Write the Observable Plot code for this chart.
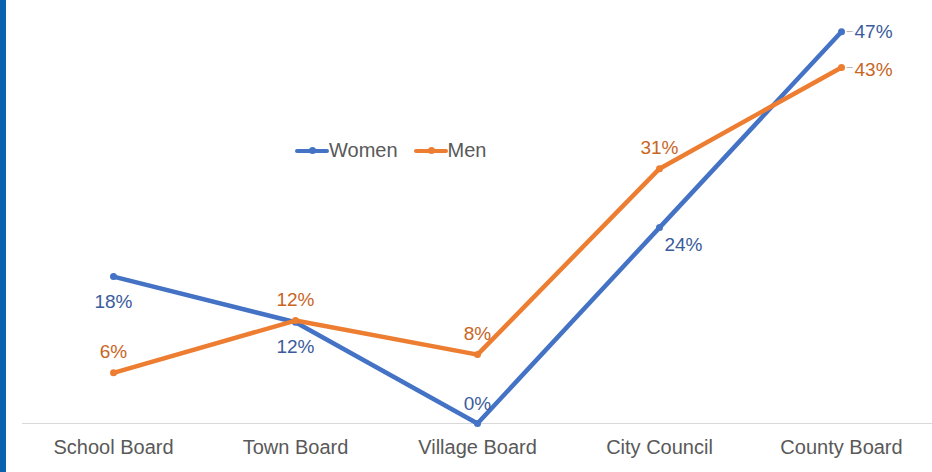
<!DOCTYPE html>
<html>
<head>
<meta charset="utf-8">
<script src="https://cdn.jsdelivr.net/npm/d3@7"></script>
<script src="https://cdn.jsdelivr.net/npm/@observablehq/plot@0.6"></script>
<style>
  html, body { margin: 0; padding: 0; background: #fff; }
  #wrap { position: relative; width: 932px; height: 472px; overflow: hidden; font-family: "Liberation Sans", Arial, sans-serif; }
  #bar { position: absolute; left: 0; top: 0; width: 6px; height: 472px; background: #0b63ad; }
  #legend { position: absolute; top: 139px; left: 295px; display: flex; align-items: center; font-size: 20px; color: #595959; }
  .item { display: flex; align-items: center; margin-right: 16px; }
  .sw { position: relative; width: 34px; height: 4px; border-radius: 2px; }
  .sw::after { content: ""; position: absolute; left: 14px; top: -1.5px; width: 7px; height: 7px; border-radius: 50%; background: inherit; }
</style>
</head>
<body>
<div id="wrap">
  <div id="chart"></div>
  <div id="bar"></div>
  <div id="legend"></div>
</div>
<script>
const categories = ["School Board", "Town Board", "Village Board", "City Council", "County Board"];
const seriesNames = ["Women", "Men"];
const women = [17.7, 12.2, 0, 23.6, 47.2];
const men = [6.1, 12.4, 8.3, 30.7, 42.9];

const lineColors = {Women: "#4472c4", Men: "#ed7d31"};
const labelColors = {Women: "#3b5b9d", Men: "#c8651f"};

const rows = [];
categories.forEach((c, i) => {
  rows.push({category: c, series: "Women", value: women[i], idx: i});
  rows.push({category: c, series: "Men", value: men[i], idx: i});
});
const W = rows.filter(d => d.series === "Women");
const M = rows.filter(d => d.series === "Men");
const fmt = d => d3.format(".0f")(d.value) + "%";
const last = categories.length - 1;

const labelStyle = {x: "category", y: "value", text: fmt, fontSize: 19};

const chart = Plot.plot({
  width: 932,
  height: 472,
  marginLeft: 22,
  marginRight: 0,
  marginTop: 8,
  marginBottom: 49,
  style: {fontFamily: "'Liberation Sans', Arial, sans-serif", background: "transparent"},
  x: {type: "point", domain: categories, padding: 0.5},
  y: {domain: [0, 50], axis: null},
  marks: [
    Plot.ruleY([0], {stroke: "#d9d9d9", strokeWidth: 1.2}),
    Plot.axisX({tickSize: 0, tickPadding: 16, fontSize: 20, fill: "#595959", label: null}),
    Plot.line(W, {x: "category", y: "value", stroke: lineColors.Women, strokeWidth: 4.5, strokeLinejoin: "round"}),
    Plot.dot(W, {x: "category", y: "value", r: 3.5, fill: lineColors.Women}),
    Plot.line(M, {x: "category", y: "value", stroke: lineColors.Men, strokeWidth: 4.5, strokeLinejoin: "round"}),
    Plot.dot(M, {x: "category", y: "value", r: 3.5, fill: lineColors.Men}),
    // Women labels
    Plot.text(W.filter(d => d.idx < 2), {...labelStyle, fill: labelColors.Women, dy: 25}),
    Plot.text(W.filter(d => d.idx === 2), {...labelStyle, fill: labelColors.Women, dy: -20}),
    Plot.text(W.filter(d => d.idx === 3), {...labelStyle, fill: labelColors.Women, dx: 24, dy: 17}),
    Plot.text(W.filter(d => d.idx === last), {...labelStyle, fill: labelColors.Women, textAnchor: "start", dx: 13}),
    // Men labels
    Plot.text(M.filter(d => d.idx < last), {...labelStyle, fill: labelColors.Men, dy: -21}),
    Plot.text(M.filter(d => d.idx === last), {...labelStyle, fill: labelColors.Men, textAnchor: "start", dx: 13, dy: 2}),
    // leader ticks for the end labels
    Plot.text(rows.filter(d => d.idx === last), {x: "category", y: "value", text: () => "–", fill: "#a6a6a6", fontSize: 11, dx: 8, dy: -1})
  ]
});
document.getElementById("chart").appendChild(chart);

const legend = document.getElementById("legend");
seriesNames.forEach(s => {
  const item = document.createElement("div");
  item.className = "item";
  const sw = document.createElement("span");
  sw.className = "sw";
  sw.style.background = lineColors[s];
  const t = document.createElement("span");
  t.textContent = s;
  item.appendChild(sw);
  item.appendChild(t);
  legend.appendChild(item);
});
</script>
</body>
</html>
